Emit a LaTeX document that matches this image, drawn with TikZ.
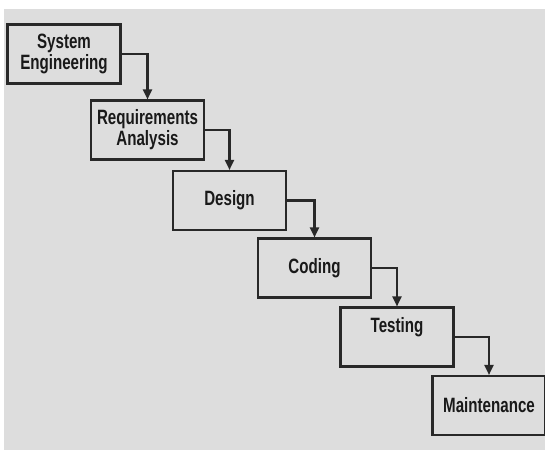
\documentclass[tikz,border=0pt]{standalone}
\usepackage{fontspec}
\setmainfont[FakeStretch=0.73]{Liberation Sans}
\usepackage{tikz}
\usetikzlibrary{positioning, arrows.meta}
\definecolor{panelgray}{RGB}{221, 221, 221}
\definecolor{edgegray}{RGB}{40, 40, 40}

\begin{document}
\begin{tikzpicture}[
    x=0.02cm, y=-0.02cm,
    phase/.style={rectangle, draw=edgegray, line width=1.2pt, fill=panelgray, minimum width=2.26cm, minimum height=1.18cm, align=center, inner sep=1pt, font=\fontsize{11.8}{11.8}\selectfont\bfseries, text=black!90},
    flow/.style={-{Triangle[width=0.18cm, length=0.2cm]}, draw=edgegray, line width=1.2pt}
]

% Frame
\useasboundingbox (0, 0) rectangle (545, 450);
\fill[white] (0, 0) rectangle (545, 450);
\fill[panelgray] (4, 9) rectangle (545, 450);

% Phases
\node[phase] (sys) at (64, 54) {System\\Engineering};
\node[phase] (req) at (147.5, 130) {Requirements\\Analysis};
\node[phase] (design) at (229.5, 200.5) {Design};
\node[phase] (coding) at (314.5, 268) {Coding};
\node[phase, text depth=0.48cm] (testing) at (397, 337) {Testing};
\node[phase] (maint) at (489, 405.5) {Maintenance};

% Arrows
\draw[flow] (sys.east) -| (req.north);
\draw[flow] (req.east) -| (design.north);
\draw[flow] (design.east) -| (coding.north);
\draw[flow] (coding.east) -| (testing.north);
\draw[flow] (testing.east) -| (maint.north);

\end{tikzpicture}
\end{document}
